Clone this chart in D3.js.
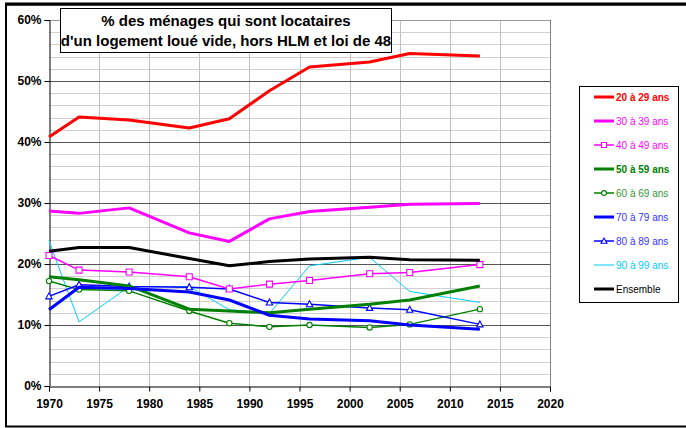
<!DOCTYPE html>
<html>
<head>
<meta charset="utf-8">
<script src="https://cdn.jsdelivr.net/npm/d3@7"></script>
<style>
  body { margin: 0; background: #fff; }
  text { font-family: "Liberation Sans", Arial, sans-serif; }
</style>
</head>
<body>
<div id="canvas"></div>
<script>
"use strict"

/* Data */
let years = [1970, 1973, 1978, 1984, 1988, 1992, 1996, 2002, 2006, 2013];

let age20 = [40.8, 44.1, 43.6, 42.3, 43.8, 48.4, 52.3, 53.1, 54.5, 54.1];
let age30 = [28.7, 28.3, 29.2, 25.1, 23.7, 27.4, 28.6, 29.3, 29.8, 29.9];
let age40 = [21.4, 19.0, 18.7, 17.9, 15.9, 16.7, 17.3, 18.4, 18.6, 19.9];
let age50 = [17.9, 17.4, 16.4, 12.6, 12.3, 12.0, 12.6, 13.4, 14.1, 16.4];
let age60 = [17.2, 15.8, 15.6, 12.3, 10.3, 9.7, 10.0, 9.6, 10.1, 12.6];
let age70 = [12.5, 16.2, 16.0, 15.4, 14.1, 11.6, 11.0, 10.7, 10.0, 9.3];
let age80 = [14.7, 16.6, 16.3, 16.2, 15.9, 13.7, 13.4, 12.8, 12.5, 10.1];
let age90 = [23.8, 10.5, 16.3, 16.3, 12.5, 11.9, 19.7, 21.1, 15.5, 13.7];
let ensemble = [22.1, 22.7, 22.7, 20.9, 19.7, 20.4, 20.8, 21.1, 20.7, 20.6];

let seriesNames = ["20 à 29 ans", "30 à 39 ans", "40 à 49 ans", "50 à 59 ans",
    "60 à 69 ans", "70 à 79 ans", "80 à 89 ans", "90 à 99 ans", "Ensemble"];

let xTickValues = [1970, 1975, 1980, 1985, 1990, 1995, 2000, 2005, 2010, 2015, 2020];
let yTickValues = [0, 10, 20, 30, 40, 50, 60];

let titleLines = ["% des ménages qui sont locataires", "d'un logement loué vide, hors HLM et loi de 48"];

/* styles per series (kept apart from the values) */
let styles = [
    { color: "#ff0000", width: 3, marker: null, bold: true },
    { color: "#ff00ff", width: 3, marker: null, bold: false },
    { color: "#ff00ff", width: 1.5, marker: "square", bold: false },
    { color: "#008000", width: 3, marker: null, bold: true },
    { color: "#008000", width: 1.5, marker: "circle", bold: false },
    { color: "#0000ff", width: 3, marker: null, bold: false },
    { color: "#0000ff", width: 1.5, marker: "triangle", bold: false },
    { color: "#00ccff", width: 1, marker: null, bold: false },
    { color: "#000000", width: 3, marker: null, bold: false }
];
let legendTextColors = ["#ff0000", "#ff00ff", "#ff00ff", "#008000", "#339933",
    "#3333ff", "#3333ff", "#00ccff", "#000000"];

let allValues = [age20, age30, age40, age50, age60, age70, age80, age90, ensemble];

/* Drawing setup */
let svgWidth = 686;
let svgHeight = 428;

let svg = d3.select("#canvas")
    .append("svg")
    .attr("width", svgWidth)
    .attr("height", svgHeight);

let xScale = d3.scaleLinear()
    .domain([1970, 2020])
    .range([49, 550]);

let yScale = d3.scaleLinear()
    .domain([0, 60])
    .range([386, 20]);

/* outer frame */
svg.append("rect")
    .attr("x", 6)
    .attr("y", 4.5)
    .attr("width", 700)
    .attr("height", 422)
    .attr("fill", "white")
    .attr("stroke", "black")
    .attr("stroke-width", 2);
svg.append("line")
    .attr("x1", 5).attr("x2", 686)
    .attr("y1", 4).attr("y2", 4)
    .attr("stroke", "black")
    .attr("stroke-width", 3);

/* minor horizontal grid every 2% */
svg.selectAll(".minorGrid")
    .data(d3.range(2, 60, 2).filter(d => d % 10 != 0))
    .join("line")
    .attr("class", "minorGrid")
    .attr("x1", xScale(1970))
    .attr("x2", xScale(2020))
    .attr("y1", d => Math.round(yScale(d)) + 0.5)
    .attr("y2", d => Math.round(yScale(d)) + 0.5)
    .attr("stroke", "#d0d0d0")
    .attr("stroke-width", 1);

/* vertical grid */
svg.selectAll(".vGrid")
    .data(xTickValues.slice(1))
    .join("line")
    .attr("class", "vGrid")
    .attr("x1", d => Math.round(xScale(d)) + 0.5)
    .attr("x2", d => Math.round(xScale(d)) + 0.5)
    .attr("y1", yScale(60))
    .attr("y2", yScale(0))
    .attr("stroke", "#c0c0c0")
    .attr("stroke-width", 1);

/* major horizontal grid */
svg.selectAll(".majorGrid")
    .data(yTickValues.slice(1))
    .join("line")
    .attr("class", "majorGrid")
    .attr("x1", xScale(1970))
    .attr("x2", xScale(2020))
    .attr("y1", d => Math.round(yScale(d)) + 0.5)
    .attr("y2", d => Math.round(yScale(d)) + 0.5)
    .attr("stroke", d => d == 60 ? "#999" : "#555")
    .attr("stroke-width", 1);

/* axes */
let yAxis = d3.axisLeft(yScale)
    .tickValues(yTickValues)
    .tickSize(5)
    .tickFormat(d => d + "%");
let xAxis = d3.axisBottom(xScale)
    .tickValues(xTickValues)
    .tickSize(5)
    .tickFormat(d3.format("d"));

let gy = svg.append("g")
    .attr("transform", "translate(" + (xScale(1970) + 0.5) + ",0)")
    .call(yAxis);
let gx = svg.append("g")
    .attr("transform", "translate(0," + (yScale(0) + 0.5) + ")")
    .call(xAxis);

[gx, gy].forEach(function(g) {
    g.select(".domain").attr("stroke", "black").attr("stroke-width", 1);
    g.selectAll(".tick line").attr("stroke", "black");
    g.selectAll("text")
        .style("font-family", "'Liberation Sans', Arial, sans-serif")
        .style("font-size", "12px")
        .style("font-weight", "bold")
        .attr("fill", "black");
});
gy.selectAll("text").attr("x", -8);
gx.selectAll("text").attr("y", 13);

/* right edge of the plot */
svg.append("line")
    .attr("x1", Math.round(xScale(2020)) + 0.5)
    .attr("x2", Math.round(xScale(2020)) + 0.5)
    .attr("y1", yScale(60))
    .attr("y2", yScale(0))
    .attr("stroke", "#808080");

/* lines */
let line = d3.line()
    .x((d, i) => xScale(years[i]))
    .y(d => yScale(d));

let drawOrder = [7, 4, 6, 3, 5, 2, 8, 1, 0];
drawOrder.forEach(function(k) {
    let st = styles[k];
    svg.append("path")
        .datum(allValues[k])
        .attr("d", line)
        .attr("fill", "none")
        .attr("stroke", st.color)
        .attr("stroke-width", st.width)
        .attr("stroke-linejoin", "round");

    if (st.marker) {
        let pts = svg.selectAll(".mk" + k)
            .data(allValues[k])
            .join("path")
            .attr("class", "mk" + k)
            .attr("transform", (d, i) => "translate(" + xScale(years[i]) + "," + yScale(d) + ")")
            .attr("fill", "white")
            .attr("stroke", st.color)
            .attr("stroke-width", 1.1);
        if (st.marker == "square") pts.attr("d", "M-3,-3H3V3H-3Z");
        if (st.marker == "circle") pts.attr("d", d3.symbol(d3.symbolCircle, 22)());
        if (st.marker == "triangle") pts.attr("d", "M0,-3.5L3.2,2.5H-3.2Z");
    }
});

/* title box */
svg.append("rect")
    .attr("x", 60.5)
    .attr("y", 8.5)
    .attr("width", 331)
    .attr("height", 44)
    .attr("fill", "white")
    .attr("stroke", "black");

svg.selectAll(".titleLine")
    .data(titleLines)
    .join("text")
    .attr("class", "titleLine")
    .attr("x", 226)
    .attr("y", (d, i) => 26 + i * 20)
    .attr("text-anchor", "middle")
    .style("font-size", "15px")
    .style("font-weight", "bold")
    .text(d => d);

/* legend */
let legendX = 579;
let legendY = 86;

svg.append("rect")
    .attr("x", legendX + 0.5)
    .attr("y", legendY + 0.5)
    .attr("width", 99)
    .attr("height", 216)
    .attr("fill", "white")
    .attr("stroke", "black");

seriesNames.forEach(function(name, k) {
    let st = styles[k];
    let yy = legendY + 11 + k * 24;
    svg.append("line")
        .attr("x1", legendX + 15)
        .attr("x2", legendX + 35)
        .attr("y1", yy)
        .attr("y2", yy)
        .attr("stroke", st.color)
        .attr("stroke-width", st.width);
    if (st.marker) {
        let m = svg.append("path")
            .attr("transform", "translate(" + (legendX + 25) + "," + yy + ")")
            .attr("fill", "white")
            .attr("stroke", st.color)
            .attr("stroke-width", 1.1);
        if (st.marker == "square") m.attr("d", "M-2.5,-2.5H2.5V2.5H-2.5Z");
        if (st.marker == "circle") m.attr("d", d3.symbol(d3.symbolCircle, 18)());
        if (st.marker == "triangle") m.attr("d", "M0,-3L3,2.2H-3Z");
    }
    svg.append("text")
        .attr("x", legendX + 37)
        .attr("y", yy + 3.5)
        .attr("fill", legendTextColors[k])
        .style("font-size", "10px")
        .style("font-weight", st.bold ? "bold" : "normal")
        .text(name);
});
</script>
</body>
</html>
